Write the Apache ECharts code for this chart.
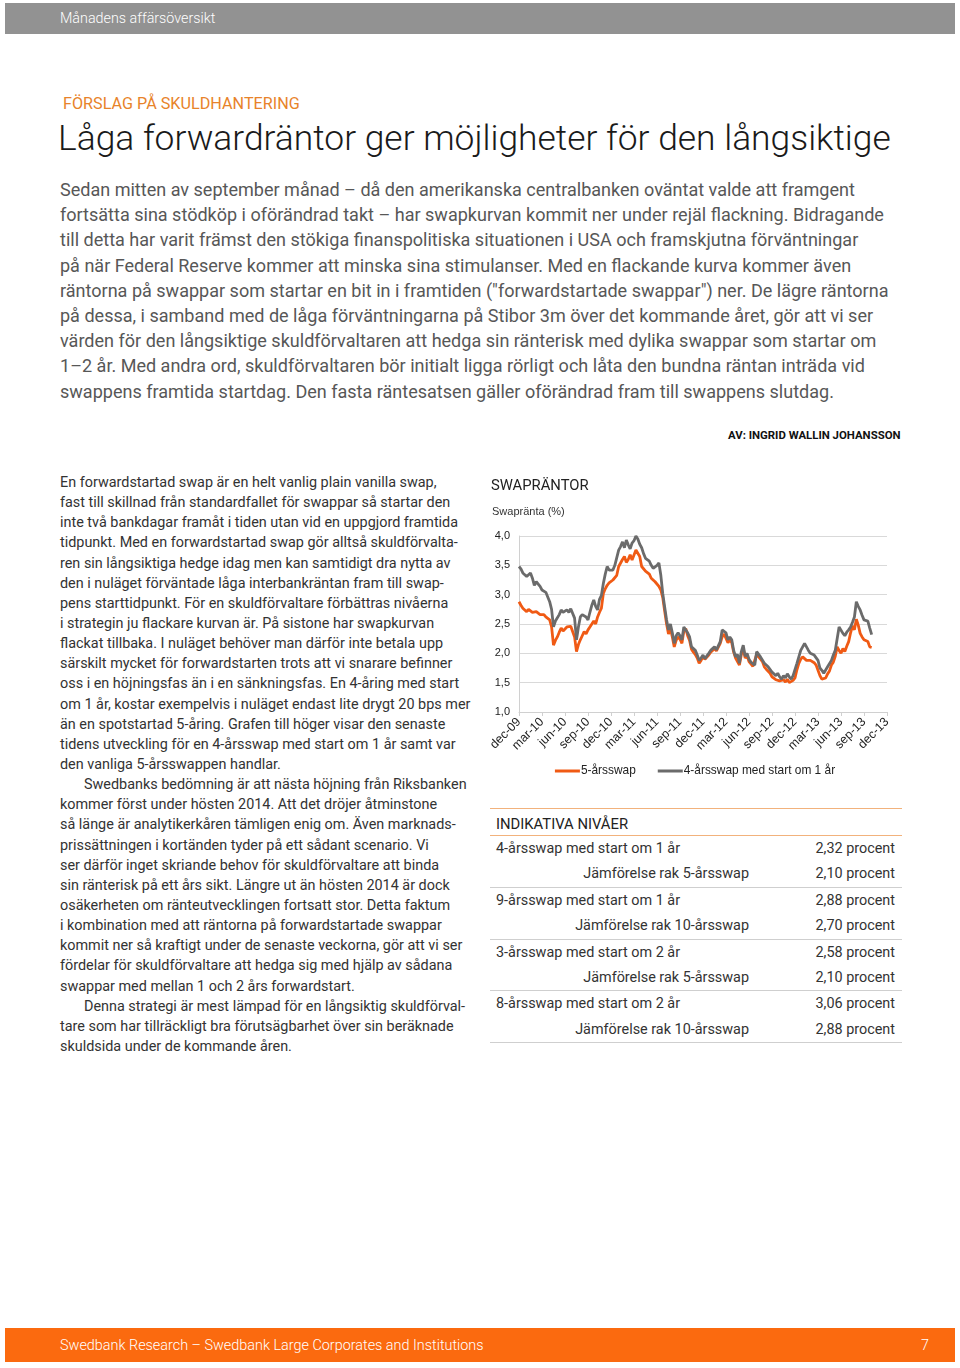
<!DOCTYPE html>
<html>
<head>
<meta charset="utf-8">
<script src="https://cdn.jsdelivr.net/npm/echarts@6/dist/echarts.min.js"></script>
<style>
  html, body { margin:0; padding:0; background:#fff; }
  body { width:960px; height:1368px; position:relative; overflow:hidden; font-family: Roboto, "Open Sans", sans-serif; }
  .abs { position:absolute; white-space:nowrap; }
  #hdr { left:5px; top:3px; width:950px; height:31px; background:#929292; }
  #hdr span { position:absolute; left:55px; top:7px; color:#fff; font-size:14.3px; font-weight:300; }
  #ftr { left:5px; top:1328px; width:950px; height:34px; background:#fb6a0f; }
  #ftr span { position:absolute; top:9px; color:#fff; font-size:14.4px; font-weight:300; }
  #kicker { left:63px; top:94px; color:#e8832a; font-size:16.2px; }
  #title { left:58px; top:117px; color:#1a1a1a; font-size:35.4px; font-weight:300; }
  #intro { left:60px; top:177px; color:#575757; font-size:18.05px; line-height:25.2px; }
  #byline { left:728px; top:428px; color:#111; font-size:11.4px; font-weight:700; }
  #left { left:60px; top:473px; color:#333; font-size:14.4px; line-height:20.14px; }
  .ind { padding-left:24px; }
  #chart { left:485px; top:470px; width:420px; height:320px; }
  #tbl { left:490px; top:808px; width:412px; }
  .row { position:relative; height:25.4px; font-size:14.4px; color:#333; }
  .row .l { position:absolute; left:6px; top:4px; }
  .row .m { position:absolute; right:153px; top:4px; }
  .row .r { position:absolute; right:7px; top:4px; }
  .sepO { height:1px; background:#f2b27c; }
  .sepG { height:1px; background:#cfcfcf; }
  .head { height:26px; position:relative; font-size:14.8px; color:#222; }
  .head span { position:absolute; left:6px; top:6px; }
</style>
</head>
<body>
<div id="hdr" class="abs"><span>Månadens affärsöversikt</span></div>
<div id="kicker" class="abs">FÖRSLAG PÅ SKULDHANTERING</div>
<div id="title" class="abs">Låga forwardräntor ger möjligheter för den långsiktige</div>
<div id="intro" class="abs">Sedan mitten av september månad – då den amerikanska centralbanken oväntat valde att framgent<br>fortsätta sina stödköp i oförändrad takt – har swapkurvan kommit ner under rejäl flackning. Bidragande<br>till detta har varit främst den stökiga finanspolitiska situationen i USA och framskjutna förväntningar<br>på när Federal Reserve kommer att minska sina stimulanser. Med en flackande kurva kommer även<br>räntorna på swappar som startar en bit in i framtiden ("forwardstartade swappar") ner. De lägre räntorna<br>på dessa, i samband med de låga förväntningarna på Stibor 3m över det kommande året, gör att vi ser<br>värden för den långsiktige skuldförvaltaren att hedga sin ränterisk med dylika swappar som startar om<br>1–2 år. Med andra ord, skuldförvaltaren bör initialt ligga rörligt och låta den bundna räntan inträda vid<br>swappens framtida startdag. Den fasta räntesatsen gäller oförändrad fram till swappens slutdag.</div>
<div id="byline" class="abs">AV: INGRID WALLIN JOHANSSON</div>
<div id="left" class="abs">En forwardstartad swap är en helt vanlig plain vanilla swap,<br>fast till skillnad från standardfallet för swappar så startar den<br>inte två bankdagar framåt i tiden utan vid en uppgjord framtida<br>tidpunkt. Med en forwardstartad swap gör alltså skuldförvalta-<br>ren sin långsiktiga hedge idag men kan samtidigt dra nytta av<br>den i nuläget förväntade låga interbankräntan fram till swap-<br>pens starttidpunkt. För en skuldförvaltare förbättras nivåerna<br>i strategin ju flackare kurvan är. På sistone har swapkurvan<br>flackat tillbaka. I nuläget behöver man därför inte betala upp<br>särskilt mycket för forwardstarten trots att vi snarare befinner<br>oss i en höjningsfas än i en sänkningsfas. En 4-åring med start<br>om 1 år, kostar exempelvis i nuläget endast lite drygt 20 bps mer<br>än en spotstartad 5-åring. Grafen till höger visar den senaste<br>tidens utveckling för en 4-årsswap med start om 1 år samt var<br>den vanliga 5-årsswappen handlar.<br><span class="ind">Swedbanks bedömning är att nästa höjning från Riksbanken</span><br>kommer först under hösten 2014. Att det dröjer åtminstone<br>så länge är analytikerkåren tämligen enig om. Även marknads-<br>prissättningen i kortänden tyder på ett sådant scenario. Vi<br>ser därför inget skriande behov för skuldförvaltare att binda<br>sin ränterisk på ett års sikt. Längre ut än hösten 2014 är dock<br>osäkerheten om ränteutvecklingen fortsatt stor. Detta faktum<br>i kombination med att räntorna på forwardstartade swappar<br>kommit ner så kraftigt under de senaste veckorna, gör att vi ser<br>fördelar för skuldförvaltare att hedga sig med hjälp av sådana<br>swappar med mellan 1 och 2 års forwardstart.<br><span class="ind">Denna strategi är mest lämpad för en långsiktig skuldförval-</span><br>tare som har tillräckligt bra förutsägbarhet över sin beräknade<br>skuldsida under de kommande åren.</div>
<div id="chart" class="abs"></div>
<div id="tbl" class="abs"></div>
<div id="ftr" class="abs"><span style="left:55px">Swedbank Research – Swedbank Large Corporates and Institutions</span><span style="right:26px">7</span></div>
<script>
// Quarter tick labels (x axis)
const tickLabels = ['dec-09','mar-10','jun-10','sep-10','dec-10','mar-11','jun-11','sep-11','dec-11','mar-12','jun-12','sep-12','dec-12','mar-13','jun-13','sep-13','dec-13'];
const pointsPerMonth = 4;   // roughly weekly observations
const monthsPerTick = 3;

// 5-årsswap (%), weekly from Dec 2009 (4 values per month)
const swap5y = [
  2.88,2.82,2.77,2.74, 2.71,2.75,2.77,2.70, 2.68,2.71,2.69,2.66, 2.64,2.66,2.62,2.60,
  2.57,2.45,2.14,2.22, 2.28,2.36,2.43,2.38, 2.40,2.45,2.42,2.46, 2.48,2.28,2.03,2.15,
  2.23,2.30,2.37,2.33, 2.40,2.45,2.48,2.55, 2.50,2.62,2.70,2.77, 3.02,3.10,3.16,3.20,
  3.18,3.25,3.22,3.33, 3.48,3.54,3.60,3.65, 3.55,3.60,3.68,3.59, 3.62,3.76,3.73,3.65,
  3.48,3.45,3.40,3.37, 3.35,3.28,3.25,3.22, 3.25,3.14,3.08,2.95, 2.72,2.50,2.33,2.42,
  2.28,2.11,2.22,2.28, 2.24,2.17,2.38,2.42, 2.30,2.22,2.07,2.02, 1.98,1.92,1.83,1.88,
  1.94,1.90,1.92,1.97, 2.02,2.05,2.08,2.04, 2.06,2.17,2.28,2.33, 2.30,2.18,2.23,2.18,
  2.02,1.92,1.95,1.80, 1.98,2.08,1.92,1.96, 1.86,1.82,1.78,1.76, 1.98,1.95,1.90,1.86,
  1.77,1.73,1.70,1.66, 1.60,1.63,1.55,1.58, 1.53,1.50,1.55,1.51, 1.56,1.50,1.49,1.54,
  1.58,1.72,1.83,1.90, 1.94,1.92,1.88,1.85, 1.88,1.90,1.84,1.80, 1.77,1.62,1.56,1.55,
  1.58,1.65,1.70,1.80, 1.85,1.95,2.11,2.05, 2.00,2.08,2.03,2.12, 2.20,2.35,2.47,2.40,
  2.58,2.48,2.34,2.28, 2.23,2.26,2.20,2.11, 2.10
];

// 4-årsswap med start om 1 år (%), same dates
const fwd4y1y = [
  3.48,3.44,3.37,3.40, 3.31,3.34,3.37,3.28, 3.16,3.22,3.19,3.14, 3.08,3.10,3.04,3.02,
  2.88,2.75,2.45,2.55, 2.57,2.66,2.74,2.70, 2.68,2.74,2.70,2.76, 2.79,2.60,2.23,2.45,
  2.62,2.66,2.68,2.62, 2.57,2.70,2.82,2.91, 2.80,2.74,2.92,2.99, 3.19,3.35,3.48,3.42,
  3.45,3.42,3.50,3.47, 3.76,3.82,3.90,3.80, 3.93,3.85,3.78,3.88, 3.92,4.00,3.95,3.86,
  3.80,3.70,3.62,3.59, 3.57,3.50,3.45,3.43, 3.50,3.54,3.33,3.02, 2.79,2.57,2.40,2.50,
  2.35,2.17,2.30,2.35, 2.30,2.23,2.45,2.48, 2.35,2.28,2.11,2.08, 2.05,1.97,1.88,1.92,
  1.97,1.91,1.94,2.00, 2.05,2.08,2.11,2.06, 2.09,2.20,2.40,2.43, 2.35,2.23,2.28,2.23,
  2.05,1.94,1.98,1.83, 2.03,2.14,1.95,2.00, 1.90,1.85,1.82,1.80, 2.03,2.00,1.94,1.92,
  1.83,1.80,1.77,1.74, 1.68,1.71,1.62,1.66, 1.60,1.56,1.62,1.58, 1.65,1.60,1.56,1.62,
  1.65,1.83,1.94,2.05, 2.11,2.17,2.11,2.05, 2.00,2.03,1.97,1.94, 1.88,1.75,1.71,1.66,
  1.68,1.77,1.74,1.88, 1.97,2.05,2.25,2.45, 2.47,2.34,2.30,2.36, 2.40,2.45,2.53,2.62,
  2.88,2.80,2.74,2.65, 2.57,2.60,2.55,2.43, 2.32
];

const seriesNames = ['5-årsswap', '4-årsswap med start om 1 år'];

// Table of indicative levels
const tableLabels = ['4-årsswap med start om 1 år','Jämförelse rak 5-årsswap','9-årsswap med start om 1 år','Jämförelse rak 10-årsswap','3-årsswap med start om 2 år','Jämförelse rak 5-årsswap','8-årsswap med start om 2 år','Jämförelse rak 10-årsswap'];
const tableValues = ['2,32','2,10','2,88','2,70','2,58','2,10','3,06','2,88'];

// build table
(function(){
  const t = document.getElementById('tbl');
  let html = '<div class="sepO"></div><div class="head"><span>INDIKATIVA NIVÅER</span></div><div class="sepO"></div>';
  for (let i = 0; i < tableLabels.length; i++) {
    const cls = (i % 2 === 0) ? 'l' : 'm';
    html += '<div class="row"><span class="' + cls + '">' + tableLabels[i] + '</span><span class="r">' + tableValues[i] + ' procent</span></div>';
    if (i % 2 === 1) html += '<div class="sepG"></div>';
  }
  t.innerHTML = html;
})();

const stepsPerTick = pointsPerMonth * monthsPerTick;
const nCats = (tickLabels.length - 1) * stepsPerTick + 1;
const categories = [];
for (let i = 0; i < nCats; i++) categories.push(i % stepsPerTick === 0 ? tickLabels[i / stepsPerTick] : '');

const chart = echarts.init(document.getElementById('chart'), null, {renderer: 'canvas'});
chart.setOption({
  animation: false,
  textStyle: { fontFamily: '"Liberation Sans", Arial, sans-serif' },
  title: [
    { text: 'SWAPRÄNTOR', left: 1, top: 4, textStyle: { fontFamily: 'Roboto', fontSize: 14.8, fontWeight: 'normal', color: '#222' } },
    { text: 'Swapränta (%)', left: 2, top: 31, textStyle: { fontFamily: '"Liberation Sans", Arial', fontSize: 11, fontWeight: 'normal', color: '#333' } }
  ],
  grid: { left: 34, right: 18, top: 66, bottom: 78 },
  legend: {
    top: 290, left: 'center',
    itemWidth: 25, itemHeight: 3, itemGap: 22,
    icon: 'rect',
    textStyle: { fontSize: 11.9, color: '#222', padding: [0,0,0,-4] },
    data: seriesNames
  },
  xAxis: {
    type: 'category', data: categories, boundaryGap: false,
    axisLine: { lineStyle: { color: '#d0d0d0', width: 1 } },
    axisTick: { show: true, interval: stepsPerTick - 1, length: 4, lineStyle: { color: '#d0d0d0' } },
    axisLabel: { interval: stepsPerTick - 1, rotate: 45, fontSize: 12.4, color: '#222', margin: 8 },
    splitLine: { show: false }
  },
  yAxis: {
    type: 'value', min: 1, max: 4, interval: 0.5,
    axisLine: { show: true, lineStyle: { color: '#d0d0d0' } },
    axisTick: { show: false },
    axisLabel: { fontSize: 11, color: '#222', margin: 9, formatter: v => v.toFixed(1).replace('.', ',') },
    splitLine: { lineStyle: { color: '#d9d9d9', width: 1 } }
  },
  series: [
    { name: seriesNames[0], type: 'line', data: swap5y, symbol: 'none', lineStyle: { color: '#f05a14', width: 2.8 }, itemStyle: { color: '#f05a14' } },
    { name: seriesNames[1], type: 'line', data: fwd4y1y, symbol: 'none', lineStyle: { color: '#6b6b6b', width: 2.8 }, itemStyle: { color: '#6b6b6b' } }
  ]
});
</script>
</body>
</html>
